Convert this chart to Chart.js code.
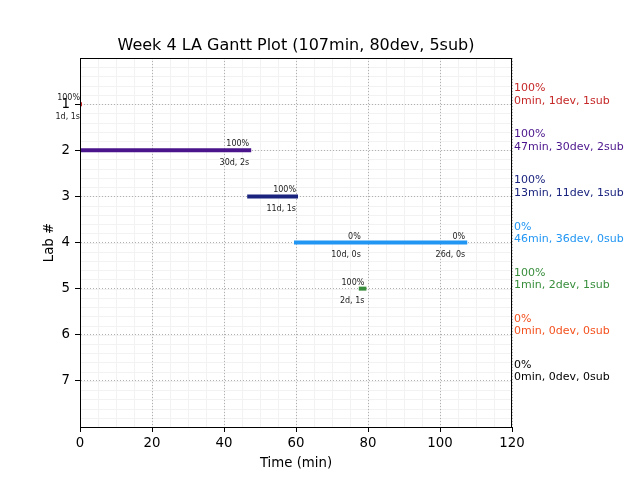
<!DOCTYPE html>
<html>
<head>
<meta charset="utf-8">
<title>Week 4 LA Gantt Plot</title>
<script src="https://cdn.jsdelivr.net/npm/chart.js@4/dist/chart.umd.min.js"></script>
<style>
  body { margin: 0; background: #fff; }
  #wrap { width: 640px; height: 480px; }
</style>
</head>
<body>
<div id="wrap"><canvas id="gantt" width="640" height="480"></canvas></div>
<script>
// dados do gráfico
const labs = [1, 2, 3, 4, 5, 6, 7];
const barStart = [0, 0, 47, 60, 78, null, null];
const barEnd = [0, 47, 60, 107, 79, null, null];
const labColors = ['#c62828', '#4a148c', '#1a237e', '#2196f3', '#388e3c', '#f4511e', '#000000'];

// anotações sobre as barras (posição em min, percentual, dev/sub)
const noteX = [[0], [47], [60], [78, 107], [79], [], []];
const notePct = [['100%'], ['100%'], ['100%'], ['0%', '0%'], ['100%'], [], []];
const noteSub = [['1d, 1s'], ['30d, 2s'], ['11d, 1s'], ['10d, 0s', '26d, 0s'], ['2d, 1s'], [], []];

// resumo à direita
const sidePct = ['100%', '100%', '100%', '0%', '100%', '0%', '0%'];
const sideSummary = ['0min, 1dev, 1sub', '47min, 30dev, 2sub', '13min, 11dev, 1sub',
  '46min, 36dev, 0sub', '1min, 2dev, 1sub', '0min, 0dev, 0sub', '0min, 0dev, 0sub'];

const xTicks = [0, 20, 40, 60, 80, 100, 120];
const chartTitle = 'Week 4 LA Gantt Plot (107min, 80dev, 5sub)';
const xTitle = 'Time (min)';
const yTitle = 'Lab #';

const FONT = '"DejaVu Sans", sans-serif';

const datasets = labs.map((lab, i) => ({
    label: 'Lab ' + lab,
    data: barStart[i] === null ? [] : [{ x: barStart[i], y: lab }, { x: barEnd[i], y: lab }],
    borderColor: labColors[i],
    backgroundColor: labColors[i],
    borderWidth: 4,
    borderCapStyle: 'square',
    pointRadius: 0,
    showLine: true,
    fill: false,
    clip: 0
}));

// grade secundária e textos extras
const ganttExtras = {
    id: 'ganttExtras',
    beforeDraw(chart) {
        const { ctx, chartArea: a, scales: { x, y } } = chart;
        ctx.save();
        ctx.strokeStyle = '#f2f2f2';
        ctx.lineWidth = 1;
        ctx.beginPath();
        for (let v = 0; v <= 120; v += 5) {
            const px = Math.round(x.getPixelForValue(v)) + 0.5;
            ctx.moveTo(px, a.top); ctx.lineTo(px, a.bottom);
        }
        for (let v = 0; v <= 8.001; v += 0.2) {
            const py = Math.round(y.getPixelForValue(v)) + 0.5;
            ctx.moveTo(a.left, py); ctx.lineTo(a.right, py);
        }
        ctx.stroke();
        ctx.restore();
    },
    afterDraw(chart) {
        const { ctx, chartArea: a, scales: { x, y } } = chart;
        ctx.save();
        // moldura
        ctx.strokeStyle = '#000';
        ctx.lineWidth = 1;
        ctx.strokeRect(a.left + 0.5, a.top + 0.5, a.right - a.left - 1, a.bottom - a.top);

        // anotações das barras
        ctx.fillStyle = '#222';
        ctx.font = '8px ' + FONT;
        ctx.textAlign = 'right';
        ctx.textBaseline = 'alphabetic';
        labs.forEach((lab, i) => {
            const py = y.getPixelForValue(lab);
            noteX[i].forEach((v, j) => {
                const px = x.getPixelForValue(v);
                ctx.fillText(notePct[i][j], px, py - 4);
                ctx.fillText(noteSub[i][j], px, py + 14.5);
            });
        });

        // resumo à direita
        ctx.font = '11px ' + FONT;
        ctx.textAlign = 'left';
        labs.forEach((lab, i) => {
            const py = y.getPixelForValue(lab);
            ctx.fillStyle = labColors[i];
            ctx.fillText(sidePct[i], a.right + 2, py - 13);
            ctx.fillText(sideSummary[i], a.right + 2, py - 0.5);
        });

        // títulos
        ctx.fillStyle = '#000';
        ctx.textAlign = 'center';
        ctx.font = '16px ' + FONT;
        ctx.fillText(chartTitle, (a.left + a.right) / 2, 50);
        ctx.font = '13.3px ' + FONT;
        ctx.fillText(xTitle, (a.left + a.right) / 2, 467);
        ctx.translate(53, (a.top + a.bottom) / 2);
        ctx.rotate(-Math.PI / 2);
        ctx.fillText(yTitle, 0, 0);
        ctx.restore();
    }
};

new Chart(document.getElementById('gantt'), {
    type: 'scatter',
    data: { datasets: datasets },
    plugins: [ganttExtras],
    options: {
        responsive: false,
        animation: false,
        layout: { padding: { top: 58, right: 128, left: 0, bottom: 0 } },
        plugins: {
            legend: { display: false },
            title: { display: false },
            tooltip: { enabled: false }
        },
        scales: {
            x: {
                type: 'linear',
                min: 0,
                max: 120,
                afterBuildTicks: (scale) => { scale.ticks = xTicks.map(v => ({ value: v })); },
                afterFit: (scale) => { scale.height = 53; },
                ticks: {
                    color: '#000',
                    font: { family: FONT, size: 13.3 },
                    padding: 4,
                    maxRotation: 0
                },
                grid: {
                    color: '#b0b0b0',
                    lineWidth: 1,
                    tickColor: '#000',
                    tickLength: 5
                },
                border: { color: '#000', width: 1, dash: [1, 2] }
            },
            y: {
                type: 'linear',
                reverse: true,
                min: 0,
                max: 8,
                afterBuildTicks: (scale) => { scale.ticks = labs.map(v => ({ value: v })); },
                afterFit: (scale) => { scale.width = 80; },
                ticks: {
                    color: '#000',
                    font: { family: FONT, size: 13.3 },
                    padding: 5
                },
                grid: {
                    color: '#b0b0b0',
                    lineWidth: 1,
                    tickColor: '#000',
                    tickLength: 5
                },
                border: { color: '#000', width: 1, dash: [1, 2] }
            }
        }
    }
});
</script>
</body>
</html>
